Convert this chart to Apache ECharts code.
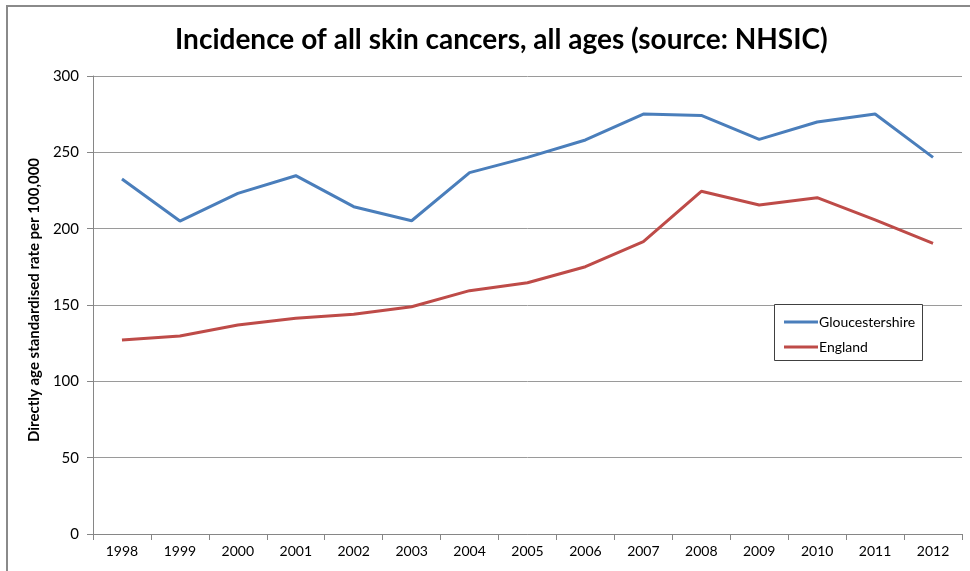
<!DOCTYPE html>
<html>
<head>
<meta charset="utf-8">
<script src="https://cdn.jsdelivr.net/npm/echarts@6/dist/echarts.min.js"></script>
<style>
  html, body { margin: 0; padding: 0; background: #fff; }
  #chart { width: 970px; height: 571px; }
</style>
</head>
<body>
<div id="chart"></div>
<script>
const years = ['1998','1999','2000','2001','2002','2003','2004','2005','2006','2007','2008','2009','2010','2011','2012'];
const gloucestershire = [232.5, 205.0, 223.1, 234.7, 214.4, 205.2, 236.7, 246.7, 258.1, 275.1, 274.2, 258.5, 269.9, 275.1, 246.7];
const england = [127.1, 129.7, 136.9, 141.3, 143.9, 148.9, 159.4, 164.6, 175.1, 191.5, 224.5, 215.5, 220.3, 205.7, 190.4];
const yTicks = { min: 0, max: 300, interval: 50 };

const FONT = 'Lato, "Open Sans", sans-serif';
const chart = echarts.init(document.getElementById('chart'), null, { renderer: 'canvas' });

chart.setOption({
  animation: false,
  backgroundColor: '#fff',
  title: {
    text: 'Incidence of all skin cancers, all ages (source: NHSIC)',
    left: 170,
    top: 21,
    textStyle: { fontFamily: FONT, fontWeight: 'bold', fontSize: 28, color: '#000' }
  },
  graphic: [{
    type: 'rect',
    shape: { x: 7, y: 6, width: 1000, height: 700 },
    style: { fill: 'none', stroke: '#8a8a8a', lineWidth: 2 },
    silent: true
  }, {
    type: 'rect',
    shape: { x: 774.5, y: 304.5, width: 148, height: 56 },
    style: { fill: '#fff', stroke: '#404040', lineWidth: 1 },
    z: 1,
    silent: true
  }],
  legend: {
    orient: 'vertical',
    left: 779,
    top: 310,
    itemGap: 11,
    itemWidth: 34,
    itemHeight: 3,
    icon: 'rect',
    z: 5,
    textStyle: { fontFamily: FONT, fontSize: 14, color: '#000', padding: [0, 0, 0, -4] },
    data: ['Gloucestershire', 'England']
  },
  grid: { left: 93, right: 8, top: 76, bottom: 37, containLabel: false },
  xAxis: {
    type: 'category',
    data: years,
    boundaryGap: true,
    axisLine: { lineStyle: { color: '#868686', width: 1 } },
    axisTick: { show: true, alignWithLabel: false, length: 6, lineStyle: { color: '#868686' } },
    axisLabel: { fontFamily: FONT, fontSize: 14, color: '#000', margin: 10 }
  },
  yAxis: {
    type: 'value',
    min: yTicks.min,
    max: yTicks.max,
    interval: yTicks.interval,
    name: 'Directly age standardised rate per 100,000',
    nameLocation: 'middle',
    nameGap: 42,
    nameTextStyle: { fontFamily: FONT, fontWeight: 'bold', fontSize: 15, color: '#000', padding: [0, 0, 0, 10] },
    axisLine: { show: true, lineStyle: { color: '#868686', width: 1 } },
    axisTick: { show: true, length: 6, inside: false, lineStyle: { color: '#868686' } },
    axisLabel: { fontFamily: FONT, fontSize: 15, color: '#000', margin: 14 },
    splitLine: { show: true, lineStyle: { color: '#9a9a9a', width: 1 } }
  },
  series: [{
    name: 'Gloucestershire',
    type: 'line',
    data: gloucestershire,
    symbol: 'none',
    color: '#4a7ebb',
    lineStyle: { width: 3, color: '#4a7ebb' },
    z: 3
  }, {
    name: 'England',
    type: 'line',
    data: england,
    symbol: 'none',
    color: '#be4b48',
    lineStyle: { width: 3, color: '#be4b48' },
    z: 3
  }]
});
</script>
</body>
</html>
